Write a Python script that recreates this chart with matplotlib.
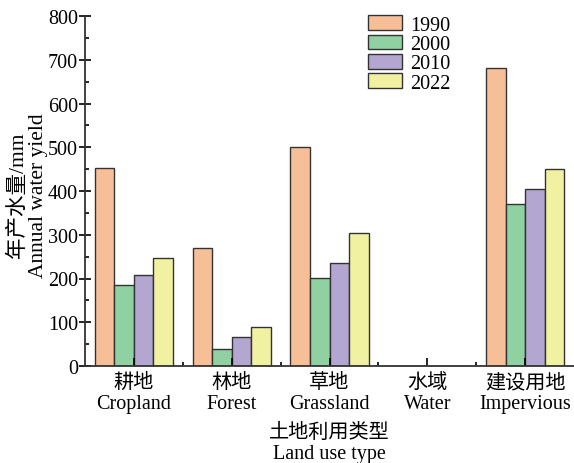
import matplotlib.pyplot as plt
import numpy as np
from matplotlib.ticker import MultipleLocator

plt.rcParams['font.family'] = ['Liberation Serif', 'Noto Sans CJK SC']
plt.rcParams['font.size'] = 14

# annual water yield (mm) by land use type
land_cn = ['耕地', '林地', '草地', '水域', '建设用地']
land_en = ['Cropland', 'Forest', 'Grassland', 'Water', 'Impervious']
years = ['1990', '2000', '2010', '2022']
wy_1990 = [452, 270, 500, 0, 681]
wy_2000 = [185, 39, 201, 0, 370]
wy_2010 = [208, 66, 235, 0, 404]
wy_2022 = [247, 89, 304, 0, 450]

colors = ['#F7BF97', '#8FD1A0', '#B3A6D0', '#F1F1A2']
series = [wy_1990, wy_2000, wy_2010, wy_2022]

fig = plt.figure(figsize=(5.74, 4.64), dpi=100)
ax = fig.add_axes([85 / 574, 97 / 464, 489 / 574, 350 / 464])

x = np.arange(len(land_en))
w = 0.2
for i, (vals, yr) in enumerate(zip(series, years)):
    ax.bar(x + (i - 1.5) * w, vals, width=w, color=colors[i],
           edgecolor='#333333', linewidth=1.0, label=yr)

ax.set_xlim(-0.5, 4.5)
ax.set_ylim(0, 800)
ax.yaxis.set_major_locator(MultipleLocator(100))
ax.yaxis.set_minor_locator(MultipleLocator(50))
ax.set_xticks(x)
ax.set_xticks(x[:-1] + 0.5, minor=True)
ax.set_xticklabels([f'{c}\n{e}' for c, e in zip(land_cn, land_en)], linespacing=1.15)

for s in ['top', 'right']:
    ax.spines[s].set_visible(False)
for s in ['left', 'bottom']:
    ax.spines[s].set_linewidth(1.3)
    ax.spines[s].set_color('#333333')

ax.tick_params(axis='y', which='major', direction='inout', length=8, width=1.2, pad=1, labelsize=14.5)
ax.tick_params(axis='y', which='minor', direction='in', length=3, width=1.2)
ax.tick_params(axis='x', which='major', direction='in', length=6, width=1.2, pad=5, labelsize=14.5)
ax.tick_params(axis='x', which='minor', direction='in', length=3, width=1.2)

ax.set_ylabel('年产水量/mm\nAnnual water yield', fontsize=15.5, linespacing=1.05)
ax.yaxis.set_label_coords(-0.076, 0.49)
ax.set_xlabel('土地利用类型\nLand use type', fontsize=14.5, linespacing=1.15, labelpad=7)

leg = ax.legend(loc='upper left', bbox_to_anchor=(0.541, 1.054), frameon=False,
                fontsize=14.5, handlelength=1.7, handleheight=0.75,
                labelspacing=0.0, handletextpad=0.4)
for p in leg.get_patches():
    p.set_edgecolor('#333333')

fig.savefig('out.png', dpi=100)
